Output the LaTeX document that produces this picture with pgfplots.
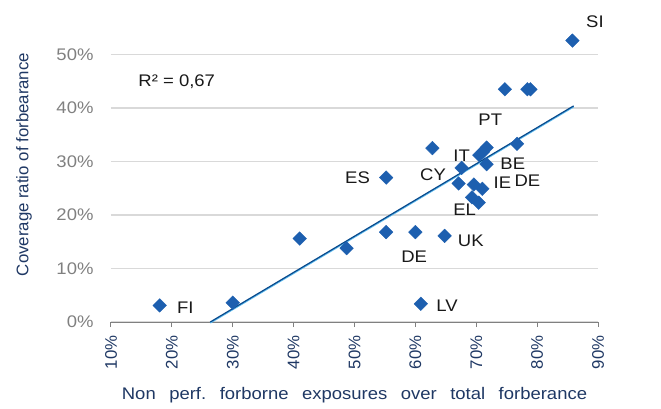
\documentclass[border=0pt]{standalone}
\usepackage{pgfplots}
\pgfplotsset{compat=1.18}
\usepackage{fontspec}
\setmainfont{Liberation Sans}
\newfontfamily\hfont[FakeStretch=1.1]{Liberation Sans}
\definecolor{mk}{HTML}{1D5FAF}
\definecolor{trd}{HTML}{0A4A8C}
\definecolor{trl}{HTML}{5BB8EC}
\definecolor{navy}{HTML}{1F3864}
\definecolor{grd}{HTML}{D9D9D9}
\definecolor{tkg}{HTML}{808080}
\newcommand{\fs}{\fontsize{16.8}{19}\selectfont}
\newcommand{\hs}{\hfont\fontsize{16.8}{19}\selectfont}
\newcommand{\ws}{\hspace{13.5pt}}
\begin{document}
\begin{tikzpicture}
\useasboundingbox (-111pt,-86pt) rectangle (550pt,322pt);
\begin{axis}[
  at={(0,0)}, anchor=south west,
  scale only axis, width=487pt, height=321pt,
  xmin=10, xmax=90, ymin=0, ymax=60,
  xtick={10,20,...,90}, ytick={0,10,...,50},
  xticklabel={\pgfmathprintnumber{\tick}\%},
  yticklabel={\pgfmathprintnumber{\tick}\%},
  /pgf/number format/assume math mode=true,
  axis x line*=bottom, axis y line*=left,
  x axis line style={draw=tkg, line width=1pt},
  y axis line style={draw=none},
  xtick style={draw=tkg, line width=1pt},
  ytick style={draw=none},
  tick align=outside, major tick length=5pt,
  ymajorgrids, major grid style={draw=grd, line width=1.2pt},
  xticklabel style={font=\fs, text=navy, yshift=-5pt, rotate=90, anchor=east},
  yticklabel style={font=\hs, text=tkg, anchor=east, xshift=-9pt},
  every axis x label/.style={at={(rel axis cs:0.5,0)}, yshift=-73pt, anchor=center, font=\hs, text=navy},
  every axis y label/.style={at={(rel axis cs:0,0.5)}, xshift=-87pt, yshift=-3pt, anchor=center, rotate=90, font=\fs, text=navy},
  xlabel={Non\ws perf.\ws forborne\ws exposures\ws over\ws total\ws forberance},
  ylabel={Coverage ratio of forbearance},
  clip=false,
]
% trend line
\addplot[trl, line width=1.6pt, no marks, yshift=-0.8pt] coordinates {(26.3,0) (86.0,40.4)};
\addplot[trd, line width=1.2pt, no marks] coordinates {(26.3,0) (86.0,40.4)};
% data
\addplot[only marks, mark=square*, mark size=4.8pt, color=mk,
  every mark/.append style={rotate=45}] coordinates {
(85.8,52.6) (74.7,43.5) (78.4,43.5) (78.9,43.5) (62.8,32.5)
(71.7,32.6) (71.1,31.8) (70.5,31.2) (76.7,33.3) (71.7,29.5)
(67.6,28.8) (55.2,27.0) (67.1,25.9) (69.6,25.7) (71.0,24.9)
(69.3,23.3) (70.4,22.3) (41.0,15.6) (48.7,13.8) (55.2,16.8)
(60.0,16.8) (64.8,16.1) (18.0,3.1) (30.0,3.6) (60.9,3.4)
};
\begin{scope}[every node/.style={font=\hs, text=black!90}]
\node at (axis cs:89.5,56.1) {SI};
\node at (axis cs:20.8,44.9) {R² = 0,67};
\node at (axis cs:72.3,37.9) {PT};
\node at (axis cs:67.6,31.0) {IT};
\node at (axis cs:76.0,29.5) {BE};
\node at (axis cs:62.9,27.6) {CY};
\node at (axis cs:50.5,27.0) {ES};
\node at (axis cs:74.3,26.0) {IE};
\node at (axis cs:78.4,26.4) {DE};
\node at (axis cs:68.1,20.9) {EL};
\node at (axis cs:69.1,15.2) {UK};
\node at (axis cs:59.8,12.2) {DE};
\node at (axis cs:22.2,2.6) {FI};
\node at (axis cs:65.2,3.0) {LV};
\end{scope}
\end{axis}
\end{tikzpicture}
\end{document}
